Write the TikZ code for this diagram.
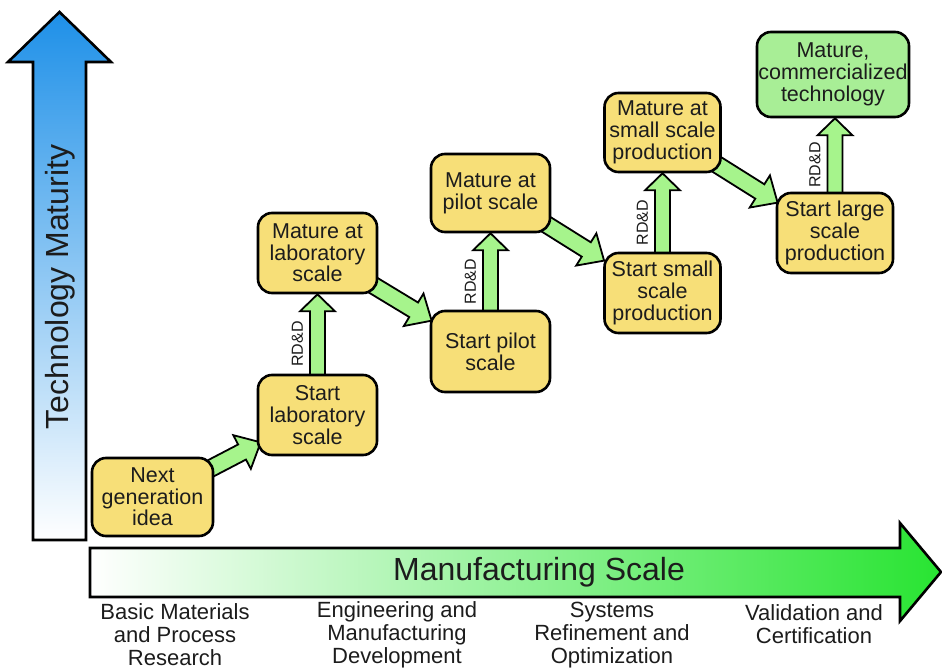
\documentclass[tikz,border=0pt]{standalone}
\usepackage{fontspec}
\setmainfont{Liberation Sans}
\usetikzlibrary{calc}
\pgfdeclarelayer{background}
\pgfsetlayers{background,main}
\definecolor{boxyellow}{RGB}{247,223,120}
\definecolor{boxgreen}{RGB}{168,238,150}
\definecolor{arrowgreen}{RGB}{166,244,140}
\definecolor{axisblue}{RGB}{30,144,232}
\definecolor{axisgreen}{RGB}{40,228,50}
\definecolor{textdark}{RGB}{28,28,28}
\newcommand\bxfont{\fontsize{21.5pt}{21.7pt}\selectfont}
\newcommand\axfont{\fontsize{32pt}{36pt}\selectfont}
\newcommand\lbfont{\fontsize{22pt}{23pt}\selectfont}
\newcommand\rdfont{\fontsize{16pt}{17pt}\selectfont}
% block arrow: #1 style, #2 start, #3 tip, #4 half shaft width, #5 half head width, #6 head length
\newcommand\blockarrow[6]{%
  \path (#2); \pgfgetlastxy{\bXa}{\bYa}%
  \path (#3); \pgfgetlastxy{\bXb}{\bYb}%
  \pgfmathsetmacro\bAng{atan2(\bYb-\bYa,\bXb-\bXa)}%
  \pgfmathsetmacro\bLen{veclen(\bXb-\bXa,\bYb-\bYa)}%
  \pgfmathsetmacro\bBase{\bLen-#6}%
  \draw[#1, shift={(\bXa,\bYa)}, rotate=\bAng]
    (0pt,-#4pt) -- (\bBase pt,-#4pt) -- (\bBase pt,-#5pt) -- (\bLen pt,0pt)
    -- (\bBase pt,#5pt) -- (\bBase pt,#4pt) -- (0pt,#4pt) -- cycle;
}
\begin{document}
\begin{tikzpicture}[x=1pt,y=-1pt,
  ybox/.style={draw=black, fill=boxyellow, rounded corners=14pt, line width=2.6pt,
    minimum width=119pt, minimum height=80pt, inner sep=0pt, align=center,
    text=textdark, font=\bxfont},
  gbox/.style={ybox, fill=boxgreen, minimum width=152pt, minimum height=85pt},
  garrow/.style={draw=black, fill=arrowgreen, line width=1.8pt, line join=miter},
  axisarrow/.style={draw=black, line width=2.6pt, line join=miter},
  rdd/.style={rotate=90, font=\rdfont, text=textdark, inner sep=0pt},
  blabel/.style={align=center, font=\lbfont, text=textdark, inner sep=0pt}]
\useasboundingbox (0,0) rectangle (942,669);

% nodes
\node[ybox, minimum width=121pt, minimum height=78pt] (n1) at (152.5,497) {Next\\generation\\idea};
\node[ybox] (n2) at (317.5,415) {Start\\laboratory\\scale};
\node[ybox] (n3) at (317.5,253) {Mature at\\laboratory\\scale};
\node[ybox, minimum height=81pt] (n4) at (490.5,351.5) {Start pilot\\scale};
\node[ybox, minimum height=78pt] (n5) at (490.5,193) {Mature at\\pilot scale};
\node[ybox, minimum width=116pt] (n6) at (662.5,293) {Start small\\scale\\production};
\node[ybox, minimum width=116pt, minimum height=79pt] (n7) at (662.5,132.5) {Mature at\\small scale\\production};
\node[ybox, minimum width=116pt] (n8) at (835,233) {Start large\\scale\\production};
\node[gbox] (n9) at (833,74.5) {Mature,\\commercialized\\technology};

\begin{pgfonlayer}{background}
  \fill[white] (0,0) rectangle (942,669);
  % axes
  \draw[axisarrow, top color=axisblue, middle color=axisblue!72!white, bottom color=white]
    (33,540) -- (33,62) -- (8,62) -- (59.5,12) -- (111,62) -- (86,62) -- (86,540) -- cycle;
  \draw[axisarrow, left color=white, middle color=axisgreen!45!white, right color=axisgreen]
    (90,548) -- (900,548) -- (900,523) -- (941,572) -- (900,621) -- (900,597) -- (90,597) -- cycle;
  % diagonal arrows
  \blockarrow{garrow}{$(n1.north east)+(-10,15)$}{$(n2.south west)+(4,-14)$}{8.5}{19}{21}
  \blockarrow{garrow}{$(n3.south east)+(-10,-12)$}{$(n4.north west)+(2,11)$}{8.5}{19}{21}
  \blockarrow{garrow}{$(n5.south east)+(-10,-12)$}{$(n6.north west)+(1,9)$}{8.5}{19}{21}
  \blockarrow{garrow}{$(n7.south east)+(-10,-12)$}{$(n8.north west)+(2,11)$}{8.5}{19}{21}
  % RD&D arrows
  \blockarrow{garrow}{$(n2.north)+(0,3)$}{n3.south}{7.5}{17.5}{17}
  \blockarrow{garrow}{$(n4.north)+(0,3)$}{n5.south}{7.5}{17.5}{17}
  \blockarrow{garrow}{$(n6.north)+(0,3)$}{n7.south}{7.5}{17.5}{17}
  \blockarrow{garrow}{$(n8.north)+(0,3)$}{n8.north |- n9.south}{7.5}{17.5}{17}
\end{pgfonlayer}

% axis labels
\node[rotate=90, font=\axfont, text=textdark] (ylab) at (60,287) {Technology Maturity};
\node[font=\axfont, text=textdark] (xlab) at (539,572) {Manufacturing Scale};

% RD&D labels
\node[rdd] (r1) at ($(n2.north)!0.5!(n3.south)+(-20,10)$) {RD\&D};
\node[rdd] (r2) at ($(n4.north)!0.5!(n5.south)+(-20,10)$) {RD\&D};
\node[rdd] (r3) at ($(n6.north)!0.5!(n7.south)+(-20,10)$) {RD\&D};
\node[rdd] (r4) at ($(n8.north)!0.5!(n8.north |- n9.south)+(-20,10)$) {RD\&D};

% bottom labels
\node[blabel] (c1) at (175,635) {Basic Materials\\and Process\\Research};
\node[blabel] (c2) at (397,635) {Engineering and\\Manufacturing\\Development};
\node[blabel] (c3) at (612,635) {Systems\\Refinement and\\Optimization};
\node[blabel] (c4) at (814,624) {Validation and\\Certification};
\end{tikzpicture}
\end{document}
